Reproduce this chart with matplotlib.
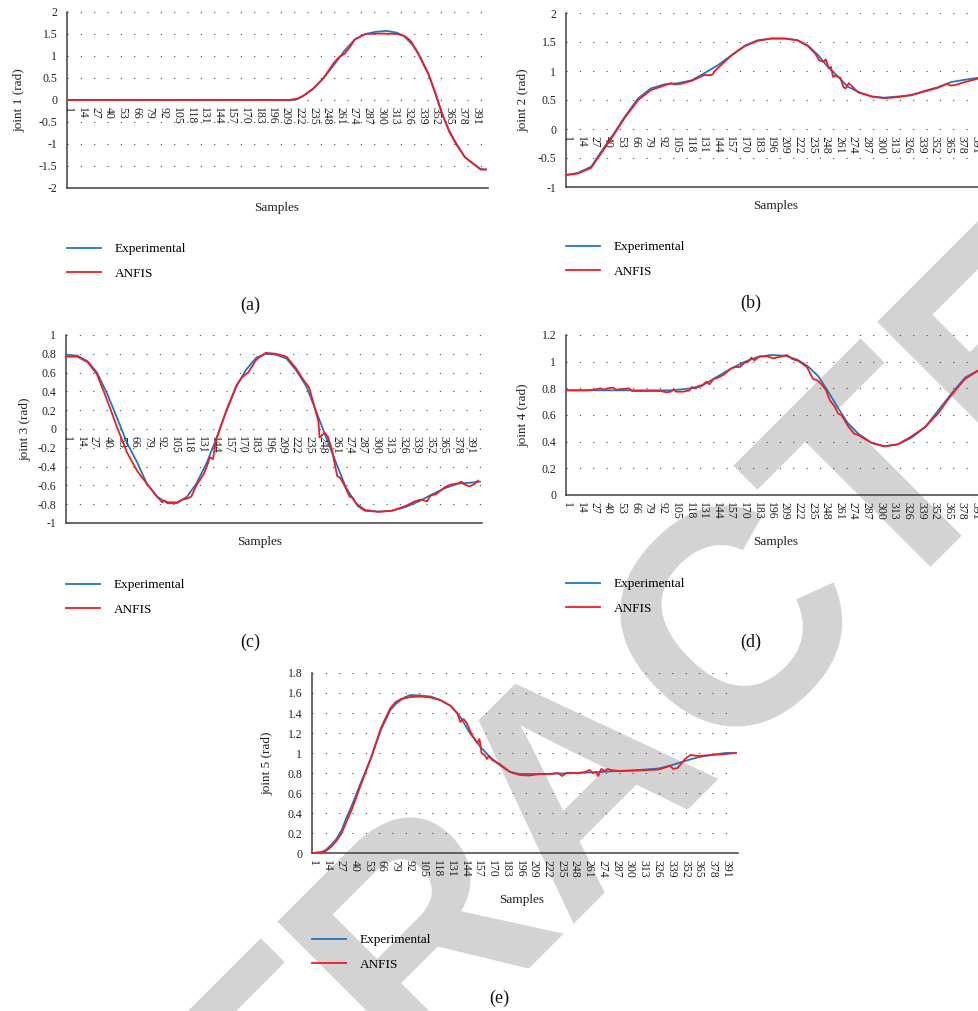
import matplotlib
matplotlib.use('Agg')
import matplotlib.pyplot as plt

W, H = 979, 1011
plt.rcParams['font.family'] = ['Liberation Serif', 'DejaVu Serif']

blue = '#1f77c0'
red = '#ee1c25'
axis_col = '#404040'

# category labels on every sample axis
sample_ticks = [1, 14, 27, 40, 53, 66, 79, 92, 105, 118, 131, 144, 157, 170, 183,
                196, 209, 222, 235, 248, 261, 274, 287, 300, 313, 326, 339, 352,
                365, 378, 391]

# joint 1
j1_s_exp = [1, 215, 220, 226, 235, 245, 255, 265, 275, 285, 295, 305, 315, 322, 330,
            338, 345, 352, 358, 365, 372, 380, 388, 395, 400]
j1_exp = [0, 0, 0.02, 0.1, 0.25, 0.5, 0.8, 1.12, 1.38, 1.5, 1.55, 1.57, 1.53, 1.45, 1.25,
          0.95, 0.6, 0.12, -0.3, -0.7, -1.0, -1.3, -1.45, -1.57, -1.58]
j1_s_anf = [1, 212, 220, 226, 235, 245, 255, 260, 265, 270, 275, 285, 300, 315, 322, 328,
            335, 340, 345, 352, 358, 365, 372, 380, 388, 395, 400]
j1_anf = [0, 0, 0.03, 0.1, 0.26, 0.5, 0.85, 0.98, 1.05, 1.2, 1.38, 1.5, 1.51, 1.5, 1.46, 1.35,
          1.08, 0.82, 0.6, 0.15, -0.3, -0.72, -1.02, -1.3, -1.45, -1.58, -1.58]

# joint 2
j2_s_exp = [1, 11, 24, 37, 46, 56, 69, 81, 94, 107, 120, 132, 145, 158, 171, 183, 196, 209,
            221, 231, 241, 250, 260, 269, 279, 292, 304, 317, 330, 343, 355, 368, 381, 396, 401]
j2_exp = [-0.79, -0.76, -0.65, -0.30, -0.07, 0.21, 0.53, 0.70, 0.77, 0.79, 0.84, 0.96, 1.10,
          1.27, 1.44, 1.53, 1.56, 1.56, 1.53, 1.44, 1.27, 1.07, 0.90, 0.73, 0.64, 0.56, 0.54,
          0.56, 0.58, 0.66, 0.72, 0.81, 0.85, 0.89, 0.90]
j2_s_anf = [1, 11, 24, 37, 46, 56, 69, 81, 94, 100, 104, 110, 120, 132, 138, 140, 142, 145,
            158, 171, 183, 196, 209, 221, 231, 238, 242, 246, 248, 251, 253, 255, 257, 262,
            265, 267, 270, 273, 279, 292, 304, 317, 330, 343, 355, 364, 367, 372, 381, 396, 401]
j2_anf = [-0.79, -0.77, -0.67, -0.33, -0.09, 0.19, 0.50, 0.67, 0.75, 0.79, 0.77, 0.78, 0.83,
          0.93, 0.93, 0.94, 1.0, 1.05, 1.27, 1.43, 1.52, 1.56, 1.56, 1.53, 1.43, 1.30, 1.18,
          1.16, 1.20, 1.05, 1.07, 0.90, 0.92, 0.88, 0.72, 0.70, 0.79, 0.74, 0.63, 0.56, 0.53,
          0.55, 0.59, 0.65, 0.71, 0.78, 0.75, 0.76, 0.81, 0.88, 0.89]

# joint 3
j3_s_exp = [1, 11, 21, 30, 40, 50, 59, 69, 78, 88, 98, 107, 117, 126, 136, 145, 155, 165,
            174, 184, 193, 203, 213, 222, 232, 241, 251, 261, 270, 280, 289, 302, 315, 328,
            341, 353, 366, 379, 392, 400]
j3_exp = [0.79, 0.78, 0.72, 0.60, 0.37, 0.10, -0.15, -0.36, -0.58, -0.72, -0.79, -0.79,
          -0.72, -0.58, -0.36, -0.11, 0.19, 0.46, 0.63, 0.76, 0.80, 0.79, 0.75, 0.63, 0.46,
          0.21, -0.08, -0.36, -0.61, -0.79, -0.86, -0.88, -0.87, -0.83, -0.77, -0.70, -0.63,
          -0.58, -0.57, -0.56]
j3_s_anf = [1, 11, 21, 30, 40, 50, 59, 69, 78, 88, 93, 95, 98, 107, 113, 117, 121, 126, 133,
            136, 139, 142, 145, 148, 155, 165, 170, 176, 184, 193, 203, 213, 222, 229, 235,
            240, 244, 245, 250, 253, 257, 262, 265, 270, 274, 277, 282, 289, 302, 315, 328,
            337, 343, 349, 352, 358, 366, 372, 379, 382, 385, 390, 394, 398]
j3_anf = [0.77, 0.77, 0.71, 0.58, 0.30, 0.0, -0.25, -0.45, -0.58, -0.72, -0.78, -0.76, -0.78,
          -0.78, -0.75, -0.74, -0.72, -0.60, -0.48, -0.40, -0.30, -0.32, -0.12, -0.02, 0.20,
          0.47, 0.55, 0.60, 0.74, 0.81, 0.80, 0.77, 0.65, 0.53, 0.44, 0.24, 0.08, -0.09, -0.04,
          -0.08, -0.22, -0.50, -0.52, -0.62, -0.72, -0.73, -0.82, -0.87, -0.88, -0.87, -0.82,
          -0.77, -0.75, -0.77, -0.71, -0.69, -0.62, -0.59, -0.58, -0.56, -0.59, -0.61, -0.59,
          -0.55]

# joint 4
j4_s_exp = [1, 50, 100, 120, 132, 145, 158, 171, 183, 196, 209, 221, 231, 241, 250, 260,
            269, 279, 292, 304, 317, 330, 343, 355, 368, 381, 396, 401]
j4_exp = [0.785, 0.785, 0.785, 0.80, 0.83, 0.89, 0.95, 1.0, 1.035, 1.05, 1.045, 1.015, 0.965,
          0.89, 0.78, 0.65, 0.54, 0.46, 0.39, 0.365, 0.38, 0.43, 0.51, 0.63, 0.76, 0.88, 0.945,
          0.95]
j4_s_anf = [1, 20, 27, 33, 36, 40, 45, 48, 55, 60, 63, 70, 90, 96, 100, 103, 105, 112, 118,
            120, 123, 130, 134, 137, 141, 145, 150, 158, 162, 166, 170, 174, 177, 180, 185,
            192, 198, 203, 207, 211, 216, 222, 230, 236, 240, 244, 248, 252, 256, 260, 263,
            269, 275, 279, 292, 304, 317, 330, 343, 355, 368, 381, 396, 401]
j4_anf = [0.785, 0.785, 0.79, 0.80, 0.79, 0.80, 0.805, 0.79, 0.795, 0.80, 0.78, 0.78, 0.78,
          0.77, 0.775, 0.79, 0.775, 0.775, 0.785, 0.81, 0.80, 0.82, 0.85, 0.83, 0.87, 0.88,
          0.90, 0.95, 0.96, 0.96, 0.99, 1.0, 1.03, 1.01, 1.04, 1.04, 1.025, 1.035, 1.04, 1.05,
          1.02, 1.005, 0.96, 0.87, 0.86, 0.83, 0.79, 0.71, 0.67, 0.61, 0.60, 0.52, 0.46, 0.45,
          0.39, 0.365, 0.38, 0.44, 0.51, 0.61, 0.75, 0.87, 0.945, 0.95]

# joint 5
j5_s_exp = [1, 9, 13, 18, 23, 28, 32, 37, 46, 56, 65, 74, 79, 84, 88, 93, 102, 112, 121, 131,
            140, 149, 159, 168, 177, 187, 196, 215, 234, 252, 271, 290, 308, 327, 340, 352,
            365, 377, 390, 400]
j5_exp = [0, 0.01, 0.03, 0.08, 0.14, 0.23, 0.34, 0.46, 0.70, 0.96, 1.23, 1.43, 1.49, 1.53,
          1.56, 1.58, 1.575, 1.565, 1.53, 1.47, 1.36, 1.20, 1.06, 0.96, 0.88, 0.81, 0.79, 0.79,
          0.795, 0.80, 0.81, 0.82, 0.83, 0.845, 0.88, 0.92, 0.96, 0.98, 1.0, 1.0]
j5_s_anf = [1, 9, 13, 18, 23, 28, 32, 37, 46, 56, 65, 74, 79, 84, 93, 102, 112, 121, 131, 137,
            140, 143, 146, 151, 156, 158, 160, 163, 165, 167, 170, 177, 187, 196, 205, 215,
            225, 232, 236, 240, 250, 258, 262, 265, 268, 270, 273, 276, 279, 282, 290, 308,
            327, 338, 341, 345, 352, 357, 365, 377, 390, 400]
j5_anf = [0, 0.005, 0.02, 0.06, 0.12, 0.20, 0.30, 0.42, 0.68, 0.96, 1.25, 1.45, 1.51, 1.54,
          1.56, 1.565, 1.555, 1.53, 1.47, 1.40, 1.31, 1.34, 1.30, 1.18, 1.10, 1.14, 1.0, 0.98,
          0.94, 0.97, 0.93, 0.89, 0.81, 0.78, 0.775, 0.79, 0.79, 0.80, 0.77, 0.80, 0.80, 0.81,
          0.83, 0.80, 0.81, 0.77, 0.84, 0.82, 0.84, 0.83, 0.82, 0.825, 0.835, 0.87, 0.84, 0.85,
          0.94, 0.98, 0.97, 0.98, 0.99, 1.0]

y_ticks = {
    1: [-2, -1.5, -1, -0.5, 0, 0.5, 1, 1.5, 2],
    2: [-1, -0.5, 0, 0.5, 1, 1.5, 2],
    3: [-1, -0.8, -0.6, -0.4, -0.2, 0, 0.2, 0.4, 0.6, 0.8, 1],
    4: [0, 0.2, 0.4, 0.6, 0.8, 1, 1.2],
    5: [0, 0.2, 0.4, 0.6, 0.8, 1, 1.2, 1.4, 1.6, 1.8],
}

fig = plt.figure(figsize=(W / 100, H / 100), dpi=100)
fig.patch.set_facecolor('white')


def fx(x):
    return x / W


def fy(y):
    return 1 - y / H


def panel(box, ticks, joint, s_exp, exp, s_anf, anf, ylab_x, samp_xy, leg_xy, tag, tag_xy):
    left, top, right, bottom = box
    ax = fig.add_axes([fx(left), fy(bottom), (right - left) / W, (bottom - top) / H])
    ax.set_facecolor('none')
    l1, = ax.plot(s_exp, exp, color=blue, lw=1.3, zorder=3)
    l2, = ax.plot(s_anf, anf, color=red, lw=1.3, zorder=4)
    ax.set_xlim(0, 402)
    ax.set_ylim(ticks[0], ticks[-1])
    ax.set_yticks(ticks)
    ax.set_yticklabels(['%g' % t for t in ticks])
    ax.set_xticks([])
    ax.tick_params(axis='y', length=0, pad=7, labelsize=8.5, labelcolor='#222222')
    ax.yaxis.grid(True, linestyle=(0, (1, 11)), color='#444444', lw=0.8)
    ax.set_axisbelow(True)
    for sp in ['top', 'right']:
        ax.spines[sp].set_visible(False)
    for sp in ['left', 'bottom']:
        ax.spines[sp].set_color(axis_col)
        ax.spines[sp].set_linewidth(1.1)
    # category labels hang just under the zero line
    for s in sample_ticks:
        ax.annotate(str(s), xy=(s, 0), xytext=(0, -5), textcoords='offset points',
                    rotation=270, ha='center', va='top', fontsize=8.5, color='#222222',
                    annotation_clip=False)
    fig.text(fx(ylab_x), fy((top + bottom) / 2), 'joint %d (rad)' % joint, rotation=90,
             ha='center', va='center', fontsize=9.5, color='#222222')
    fig.text(fx(samp_xy[0]), fy(samp_xy[1]), 'Samples', ha='center', va='center',
             fontsize=9.5, color='#222222')
    ax.legend([l1, l2], ['Experimental', 'ANFIS'], loc='upper left',
              bbox_to_anchor=(fx(leg_xy[0]), fy(leg_xy[1] - 4)), bbox_transform=fig.transFigure,
              frameon=False, borderpad=0, borderaxespad=0, handlelength=2.6,
              handletextpad=1.0, labelspacing=0.95, prop={'size': 9.5})
    fig.text(fx(tag_xy[0]), fy(tag_xy[1]), tag, ha='center', va='center', fontsize=13,
             color='#111111')
    return ax


panel((67, 12, 488, 188), y_ticks[1], 1, j1_s_exp, j1_exp, j1_s_anf, j1_anf,
      19, (277, 208), (67, 247), '(a)', (250, 305))
panel((566, 13, 987, 187), y_ticks[2], 2, j2_s_exp, j2_exp, j2_s_anf, j2_anf,
      523, (776, 206), (566, 245), '(b)', (751, 303))
panel((66, 335, 482, 523), y_ticks[3], 3, j3_s_exp, j3_exp, j3_s_anf, j3_anf,
      25, (260, 542), (66, 583), '(c)', (250, 642))
panel((566, 335, 987, 495), y_ticks[4], 4, j4_s_exp, j4_exp, j4_s_anf, j4_anf,
      523, (776, 542), (566, 582), '(d)', (751, 642))
panel((312, 673, 738, 853), y_ticks[5], 5, j5_s_exp, j5_exp, j5_s_anf, j5_anf,
      267, (522, 900), (312, 938), '(e)', (499, 998))

# retraction stamp behind everything
fig.text(fx(585), fy(780), 'RETRACTED', fontsize=220, fontweight='bold',
         family='Liberation Sans', color='#d3d3d3', rotation=45, rotation_mode='anchor',
         ha='center', va='center', zorder=-5)

fig.savefig('out.png', dpi=100)
